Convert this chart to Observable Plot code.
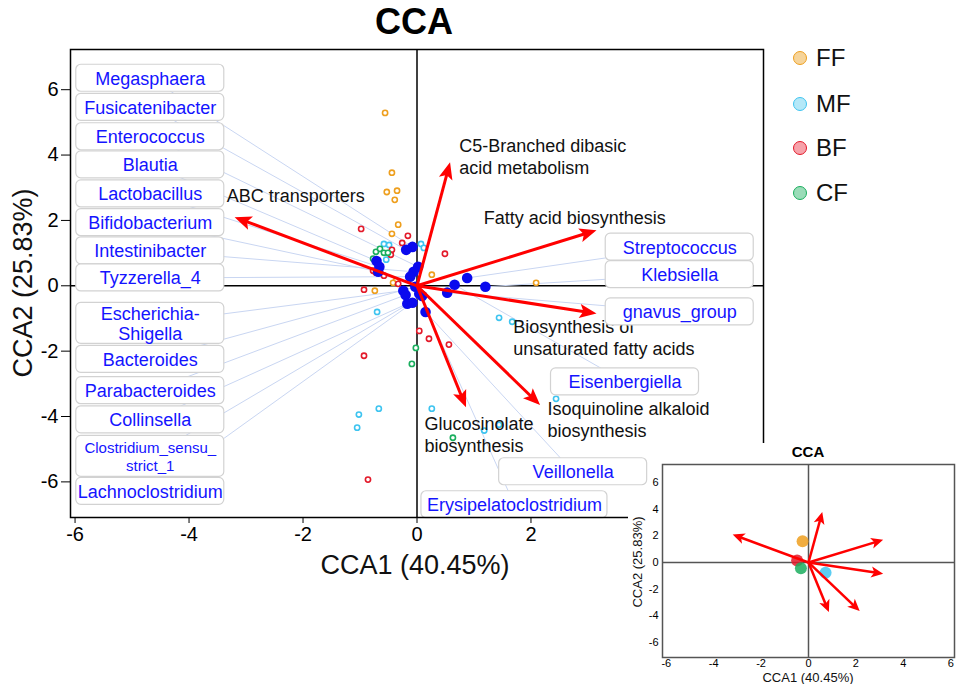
<!DOCTYPE html>
<html><head><meta charset="utf-8">
<script src="https://cdn.jsdelivr.net/npm/d3@7"></script>
<script src="https://cdn.jsdelivr.net/npm/@observablehq/plot@0.6"></script>
<style>
body{margin:0;background:#fff;font-family:"Liberation Sans",Arial,sans-serif;}
#wrap{position:relative;width:957px;height:684px;overflow:hidden;background:#fff;}
.abs{position:absolute;white-space:nowrap;line-height:1.15;}
</style></head><body><div id="wrap"></div>
<script>
// ---------- data ----------
const groups = ["FF", "MF", "BF", "CF"];
const groupStroke = ["#ee9f1e", "#3ec4f0", "#e31a2a", "#1aae5e"];
const groupFill = ["#f6d49a", "#b4e8f8", "#f6a2aa", "#9adcb8"];

const ffX = [-0.56, -0.44, -0.53, -0.35, -0.39, -0.33, -0.44, 0.26, -0.37, -0.42, -0.74, 2.09];
const ffY = [5.29, 3.46, 2.87, 2.91, 2.63, 1.87, 1.59, 0.34, 0.15, 0.09, -0.15, 0.09];
const mfX = [-0.58, -0.49, -0.54, 0.07, 0.12, -0.70, 1.44, 1.67, 0.26, -0.67, -1.02, -1.05, 1.18, 1.44, 2.44];
const mfY = [1.28, 1.25, 0.80, 1.28, 1.16, -0.80, -0.98, -1.10, -3.76, -3.76, -3.94, -4.34, -4.43, -4.25, -3.46];
const bfX = [-0.98, -0.16, -0.26, -0.44, -0.46, 0.49, -0.77, -0.72, -0.58, -0.33, -0.93, 0.04, 0.21, 0.56, -0.93, -0.86];
const bfY = [1.74, 1.53, 1.31, 1.10, 0.95, 0.98, 0.46, 0.40, 0.31, 0.06, -0.12, -1.38, -1.62, -1.80, -2.14, -5.93];
const cfX = [-0.72, -0.65, -0.58, -0.51, -0.77, -0.02, -0.09, 0.63];
const cfY = [1.04, 1.13, 1.01, 1.01, 0.83, -1.90, -2.39, -4.65];

const genusNames = ["Megasphaera", "Fusicatenibacter", "Enterococcus", "Blautia", "Lactobacillus",
  "Bifidobacterium", "Intestinibacter", "Tyzzerella_4", "Escherichia-\nShigella", "Bacteroides",
  "Parabacteroides", "Collinsella", "Clostridium_sensu_\nstrict_1", "Lachnoclostridium",
  "Streptococcus", "Klebsiella", "gnavus_group", "Eisenbergiella", "Veillonella", "Erysipelatoclostridium"];
const genusX = [-0.08, -0.19, 0.02, -0.71, -0.66, -0.68, -0.06, -0.12, -0.24, -0.03, -0.20, -0.17, 0.09, -0.08, 0.88, 1.20, 0.53, 0.66, 0.15, 0.04];
const genusY = [1.19, 1.10, 0.58, 0.76, 0.58, 0.43, 0.43, 0.28, -0.15, -0.03, -0.28, -0.55, -0.31, -0.52, 0.24, -0.03, -0.21, 0.03, -0.80, -0.24];
const labelX = [-4.68, -4.68, -4.68, -4.68, -4.68, -4.68, -4.68, -4.68, -4.68, -4.68, -4.68, -4.68, -4.68, -4.68, 4.61, 4.61, 4.61, 3.65, 2.74, 1.71];
const labelY = [6.35, 5.46, 4.56, 3.70, 2.81, 1.93, 1.07, 0.24, -1.15, -2.25, -3.21, -4.10, -5.22, -6.29, 1.18, 0.34, -0.80, -2.94, -5.69, -6.70];

const arrowNames = ["ABC transporters", "C5-Branched dibasic\nacid metabolism", "Fatty acid biosynthesis",
  "Biosynthesis of\nunsaturated fatty acids", "Isoquinoline alkaloid\nbiosynthesis", "Glucosinolate\nbiosynthesis"];
const arrowX = [-3.20, 0.58, 3.15, 3.15, 2.16, 0.86];
const arrowY = [2.10, 3.78, 1.70, -0.85, -3.65, -3.72];
const arrowLabelX = [-3.34, 0.74, 1.17, 1.69, 2.29, 0.13];
const arrowLabelY = [2.78, 3.98, 2.11, -1.58, -4.07, -4.53];

const centroidX = [-0.25, 0.72, -0.48, -0.32];
const centroidY = [1.60, -0.77, 0.15, -0.43];

const mainXTicks = [-6, -4, -2, 0, 2];
const mainYTicks = [-6, -4, -2, 0, 2, 4, 6];
const insetTicks = [-6, -4, -2, 0, 2, 4, 6];

// ---------- build ----------
const FONT = '"Liberation Sans", Arial, sans-serif';
const wrap = document.getElementById("wrap");
const fmt = d => String(d);

const samples = [];
[[ffX, ffY], [mfX, mfY], [bfX, bfY], [cfX, cfY]].forEach(([xs, ys], g) =>
  xs.forEach((x, i) => samples.push({x, y: ys[i], c: groupStroke[g]})));

const genera = genusNames.map((name, i) => ({
  name, gx: genusX[i], gy: genusY[i], lx: labelX[i], ly: labelY[i]
}));

function arrowParts(kx, ky, back) {
  return arrowX.map((x, i) => {
    const y = arrowY[i];
    const sx = x * kx, sy = -y * ky, len = Math.hypot(sx, sy);
    const ux = sx / len, uy = sy / len;
    return {x0: 0, y0: 0, x, y, ex: x - ux * back / kx, ey: y + uy * back / ky,
      rot: Math.atan2(sx, -sy) * 180 / Math.PI};
  });
}
function headSymbol(L, W, notch) {
  return {draw(ctx) {
    ctx.moveTo(0, 0); ctx.lineTo(W, L); ctx.lineTo(0, L * notch); ctx.lineTo(-W, L); ctx.closePath();
  }};
}

// main plot
const MW = 957, MH = 684;
const M = {top: 49, right: 194, bottom: 167, left: 70};
const xDom = [-6.08, 6.08], yDom = [-7.09, 7.23];
const kx = (MW - M.left - M.right) / (xDom[1] - xDom[0]);
const ky = (MH - M.top - M.bottom) / (yDom[1] - yDom[0]);
const arrowsMain = arrowParts(kx, ky, 12);
const arrowLabels = arrowNames.map((t, i) => ({t, x: arrowLabelX[i], y: arrowLabelY[i]}));

function boxes(filter, halfW, halfH) {
  return genera.filter(filter).map(d => ({
    x1: d.lx - halfW / kx, x2: d.lx + halfW / kx, y1: d.ly - halfH / ky, y2: d.ly + halfH / ky
  }));
}
const isTwo = d => d.name.includes("\n");
const isWide = d => d.name.length > 18 && !isTwo(d);
const boxData = [
  ...boxes(d => !isTwo(d) && !isWide(d), 74, 13.5),
  ...boxes(d => isTwo(d), 74, 20.5),
  ...boxes(d => isWide(d), 93, 13.5)
];

const main = Plot.plot({
  width: MW, height: MH,
  marginTop: M.top, marginRight: M.right, marginBottom: M.bottom, marginLeft: M.left,
  x: {domain: xDom}, y: {domain: yDom},
  color: {type: "identity"},
  style: {fontFamily: FONT, background: "white", overflow: "visible"},
  marks: [
    Plot.ruleX([0], {stroke: "#000", strokeWidth: 1.5}),
    Plot.ruleY([0], {stroke: "#000", strokeWidth: 1.5}),
    Plot.link(genera, {x1: "gx", y1: "gy", x2: "lx", y2: "ly", stroke: "#c9d6f2", strokeWidth: 1}),
    Plot.dot(samples, {x: "x", y: "y", stroke: "c", fill: "white", r: 2.6, strokeWidth: 1.6}),
    Plot.dot(genera, {x: "gx", y: "gy", r: 5.3, fill: "#0a0aee"}),
    Plot.link(arrowsMain, {x1: "x0", y1: "y0", x2: "ex", y2: "ey", stroke: "#ff0000", strokeWidth: 3}),
    Plot.dot(arrowsMain, {x: "x", y: "y", symbol: headSymbol(17, 7, 0.78), rotate: "rot", fill: "#ff0000", r: 5}),
    Plot.text(arrowLabels, {x: "x", y: "y", text: "t", textAnchor: "start", fontSize: 18, lineHeight: 1.22, fill: "#111"}),
    Plot.rect(boxData, {x1: "x1", x2: "x2", y1: "y1", y2: "y2", fill: "white", stroke: "#d2d2d2", strokeWidth: 1.2, rx: 5}),
    Plot.text(genera.filter(d => !d.name.startsWith("Clostridium")), {x: "lx", y: "ly", text: "name", fontSize: 18, lineHeight: 1.1, fill: "#1414ff"}),
    Plot.text(genera.filter(d => d.name.startsWith("Clostridium")), {x: "lx", y: "ly", text: "name", fontSize: 15, lineHeight: 1.2, fill: "#1414ff"}),
    Plot.frame({stroke: "#000", strokeWidth: 1.5}),
    Plot.axisX({ticks: mainXTicks, tickFormat: fmt, tickSize: 6, tickPadding: 3, fontSize: 20, label: null, stroke: "#000"}),
    Plot.axisY({ticks: mainYTicks, tickFormat: fmt, tickSize: 9, tickPadding: 3, fontSize: 20, label: null, stroke: "#000"})
  ]
});
main.style.position = "absolute"; main.style.left = "0px"; main.style.top = "0px";
wrap.appendChild(main);

function addText(txt, cx, cy, size, opts = {}) {
  const d = document.createElement("div");
  d.className = "abs";
  d.textContent = txt;
  d.style.left = cx + "px"; d.style.top = cy + "px";
  d.style.fontSize = size + "px";
  d.style.fontWeight = opts.bold ? "bold" : "normal";
  d.style.color = opts.color || "#111";
  d.style.transform = "translate(-50%,-50%)" + (opts.rotate ? " rotate(" + opts.rotate + "deg)" : "");
  wrap.appendChild(d);
  return d;
}
function addBlock(l, t, w, h) {
  const d = document.createElement("div");
  d.style.cssText = `position:absolute;left:${l}px;top:${t}px;width:${w}px;height:${h}px;background:#fff;`;
  wrap.appendChild(d);
}

addText("CCA", 414, 22, 36, {bold: true, color: "#000"});
addText("CCA1 (40.45%)", 415, 566, 27);
addText("CCA2 (25.83%)", 24, 283, 27, {rotate: -90});

// legend
const legendY = [58, 104, 148, 193];
groups.forEach((g, i) => {
  const c = document.createElement("div");
  c.style.cssText = `position:absolute;left:${800 - 7.5}px;top:${legendY[i] - 7.5}px;width:12px;height:12px;border-radius:50%;border:1.6px solid ${groupStroke[i]};background:${groupFill[i]};`;
  wrap.appendChild(c);
  const t = document.createElement("div");
  t.className = "abs";
  t.textContent = g;
  t.style.cssText += `left:816px;top:${legendY[i]}px;font-size:24px;color:#111;transform:translateY(-50%);`;
  wrap.appendChild(t);
});

// inset
addBlock(628, 487, 329, 197);
addBlock(650, 443, 307, 44);
const IW = 329, IH = 241;
const IM = {top: 21, right: 3, bottom: 27, left: 34};
const ixDom = [-6.16, 6.16], iyDom = [-7.13, 7.35];
const ikx = (IW - IM.left - IM.right) / (ixDom[1] - ixDom[0]);
const iky = (IH - IM.top - IM.bottom) / (iyDom[1] - iyDom[0]);
const arrowsInset = arrowParts(ikx, iky, 8);
const centroids = groups.map((g, i) => ({g, x: centroidX[i], y: centroidY[i], c: groupStroke[i]}));

const inset = Plot.plot({
  width: IW, height: IH,
  marginTop: IM.top, marginRight: IM.right, marginBottom: IM.bottom, marginLeft: IM.left,
  x: {domain: ixDom}, y: {domain: iyDom},
  color: {type: "identity"},
  style: {fontFamily: FONT, background: "transparent", overflow: "visible"},
  marks: [
    Plot.ruleX([0], {stroke: "#555", strokeWidth: 1.5}),
    Plot.ruleY([0], {stroke: "#555", strokeWidth: 1.5}),
    Plot.dot(centroids, {x: "x", y: "y", r: 6, fill: "c", fillOpacity: 0.85}),
    Plot.link(arrowsInset, {x1: "x0", y1: "y0", x2: "ex", y2: "ey", stroke: "#ff0000", strokeWidth: 2.5}),
    Plot.dot(arrowsInset, {x: "x", y: "y", symbol: headSymbol(12, 5.5, 0.75), rotate: "rot", fill: "#ff0000", r: 4}),
    Plot.frame({stroke: "#555", strokeWidth: 1.5}),
    Plot.axisX({ticks: insetTicks, tickFormat: fmt, tickSize: 0, tickPadding: 2, fontSize: 11, label: null}),
    Plot.axisY({ticks: insetTicks, tickFormat: fmt, tickSize: 0, tickPadding: 4, fontSize: 11, label: null})
  ]
});
inset.style.position = "absolute"; inset.style.left = "628px"; inset.style.top = "443px";
wrap.appendChild(inset);
addText("CCA", 808, 452, 15, {bold: true, color: "#000"});
addText("CCA1 (40.45%)", 808, 678, 13);
addText("CCA2 (25.83%)", 638, 562, 13, {rotate: -90});
</script></body></html>
